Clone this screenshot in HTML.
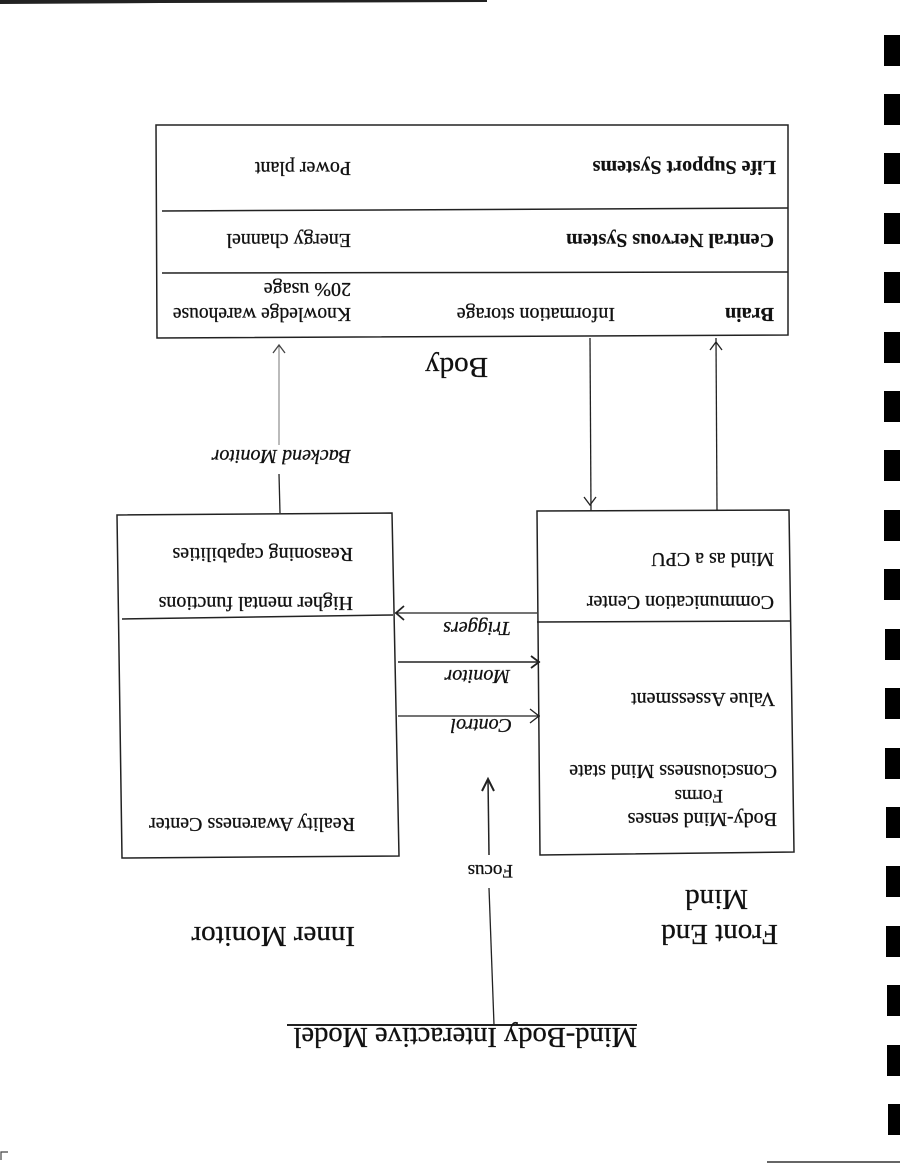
<!DOCTYPE html>
<html>
<head>
<meta charset="utf-8">
<style>
  html, body { margin: 0; padding: 0; background: #fff; }
  svg { display: block; }
  text { font-family: "Liberation Serif", serif; fill: #111; stroke: #111; stroke-width: 0.3; }
  .b { font-weight: bold; stroke-width: 0.2; }
  .i { font-style: italic; }
</style>
</head>
<body>
<svg width="900" height="1164" viewBox="0 0 900 1164" xmlns="http://www.w3.org/2000/svg">
  <rect x="0" y="0" width="900" height="1164" fill="#fff"/>

  <!-- top scan line -->
  <polygon points="0,0 487,0 487,2 160,3 0,4" fill="#222"/>
  <!-- bottom right line -->
  <line x1="767" y1="1162" x2="900" y2="1162" stroke="#333" stroke-width="1.5"/>
  <!-- bottom-left corner mark -->
  <polyline points="8,1152 1,1152 1,1160" fill="none" stroke="#444" stroke-width="1.2"/>

  <!-- right edge binder marks -->
  <g fill="#000">
    <rect x="884" y="35" width="16" height="31"/>
    <rect x="884" y="94" width="16" height="31"/>
    <rect x="884" y="153" width="16" height="31"/>
    <rect x="884" y="213" width="16" height="31"/>
    <rect x="884" y="272" width="16" height="31"/>
    <rect x="884" y="332" width="16" height="31"/>
    <rect x="884" y="391" width="16" height="31"/>
    <rect x="884" y="450" width="16" height="31"/>
    <rect x="884" y="510" width="16" height="31"/>
    <rect x="884" y="569" width="16" height="31"/>
    <rect x="885" y="629" width="15" height="31"/>
    <rect x="885" y="688" width="15" height="31"/>
    <rect x="885" y="748" width="15" height="31"/>
    <rect x="886" y="807" width="14" height="31"/>
    <rect x="886" y="866" width="14" height="31"/>
    <rect x="886" y="926" width="14" height="31"/>
    <rect x="887" y="985" width="13" height="31"/>
    <rect x="887" y="1045" width="13" height="31"/>
    <rect x="888" y="1104" width="12" height="31"/>
  </g>

  <!-- Body box -->
  <g fill="none" stroke="#222" stroke-width="1.5">
    <polygon points="156,125 788,125 788,335 157,338"/>
    <line x1="162" y1="211" x2="788" y2="208"/>
    <line x1="162" y1="273" x2="788" y2="272"/>
  </g>

  <!-- Left box (Inner Monitor) -->
  <g fill="none" stroke="#222" stroke-width="1.5">
    <polygon points="117,515 392,513 399,856 122,858"/>
    <line x1="122" y1="619" x2="393" y2="615"/>
  </g>

  <!-- Right box (Front End Mind) -->
  <g fill="none" stroke="#222" stroke-width="1.5">
    <polygon points="537,511 789,510 794,852 540,855"/>
    <line x1="537" y1="622" x2="791" y2="621"/>
  </g>

  <!-- Connectors -->
  <g fill="none" stroke="#222" stroke-width="1.3">
    <line x1="280" y1="513" x2="279" y2="474"/>
    <line x1="279" y1="445" x2="279" y2="346" stroke="#777" stroke-width="1"/>
    <polyline points="273,353 279,345 285,353" stroke="#444"/>
    <line x1="590" y1="338" x2="591" y2="511"/>
    <polyline points="584,497 590,505 596,497"/>
    <line x1="717" y1="510" x2="716" y2="338"/>
    <polyline points="710,350 716,342 722,350"/>
    <line x1="395" y1="613" x2="537" y2="613"/>
    <polyline points="404,606 396,613 404,620" stroke-width="1.8"/>
    <line x1="398" y1="662" x2="540" y2="662" stroke-width="1.6"/>
    <polyline points="531,656 539,662 531,668" stroke-width="1.8"/>
    <line x1="398" y1="716" x2="540" y2="716"/>
    <polyline points="530,709 539,716 530,723"/>
    <line x1="489" y1="855" x2="488" y2="779" stroke-width="1.5"/>
    <polyline points="482,791 488,779 494,791" stroke-width="2"/>
    <line x1="489" y1="888" x2="494" y2="1025"/>
    <line x1="287" y1="1025" x2="637" y2="1025" stroke-width="2"/>
  </g>

  <!-- Body box text -->
  <text class="b" font-size="20" transform="translate(776,161) rotate(180)">Life Support Systems</text>
  <text font-size="20" transform="translate(351,162) rotate(180)">Power plant</text>
  <text class="b" font-size="20" transform="translate(774,234) rotate(180)">Central Nervous System</text>
  <text font-size="20" transform="translate(351,234) rotate(180)">Energy channel</text>
  <text class="b" font-size="20" transform="translate(774,308) rotate(180)">Brain</text>
  <text font-size="20" transform="translate(615,308) rotate(180)">Information storage</text>
  <text font-size="19.5" transform="translate(351,308) rotate(180)">Knowledge warehouse</text>
  <text font-size="20" transform="translate(351,283) rotate(180)">20% usage</text>

  <text font-size="29" transform="translate(488,358) rotate(180)">Body</text>
  <text class="i" font-size="20" transform="translate(351,450) rotate(180)">Backend Monitor</text>

  <!-- left box text -->
  <text font-size="20" transform="translate(353,548) rotate(180)">Reasoning capabilities</text>
  <text font-size="20" transform="translate(353,597) rotate(180)">Higher mental functions</text>
  <text font-size="20" transform="translate(355,818) rotate(180)">Reality Awareness Center</text>

  <!-- right box text -->
  <text font-size="20" transform="translate(774,553) rotate(180)">Mind as a CPU</text>
  <text font-size="20" transform="translate(774,596) rotate(180)">Communication Center</text>
  <text font-size="20" transform="translate(775,693) rotate(180)">Value Assessment</text>
  <text font-size="20" transform="translate(777,765) rotate(180)">Consciousness Mind state</text>
  <text font-size="19" transform="translate(723,790) rotate(180)">Forms</text>
  <text font-size="20" transform="translate(777,813) rotate(180)">Body-Mind senses</text>

  <!-- connector labels -->
  <text class="i" font-size="20" transform="translate(511,622) rotate(180)">Triggers</text>
  <text class="i" font-size="20" transform="translate(510,670) rotate(180)">Monitor</text>
  <text class="i" font-size="20" transform="translate(512,719) rotate(180)">Control</text>
  <text font-size="19" transform="translate(513,865) rotate(180)">Focus</text>

  <!-- section titles -->
  <text font-size="29" transform="translate(748,890) rotate(180)">Mind</text>
  <text font-size="29" transform="translate(778,925) rotate(180)">Front End</text>
  <text font-size="29" transform="translate(355,927) rotate(180)">Inner Monitor</text>
  <text font-size="28.5" transform="translate(637,1028) rotate(180)">Mind-Body Interactive Model</text>
</svg>
</body>
</html>
